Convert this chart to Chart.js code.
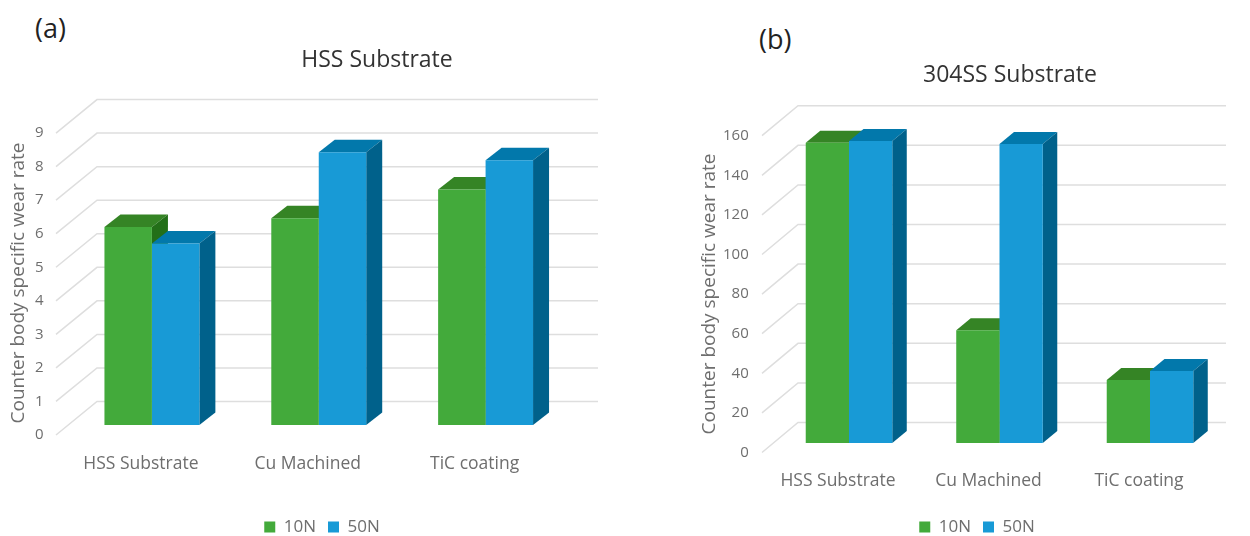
<!DOCTYPE html>
<html>
<head>
<meta charset="utf-8">
<title>Counter body specific wear rate</title>
<script src="https://cdn.jsdelivr.net/npm/chart.js@4"></script>
<style>
    body { margin: 0; background: #fff; width: 1250px; height: 536px; overflow: hidden; position: relative; }
    canvas { position: absolute; top: 0; }
    #chartA { left: 0; }
    #chartB { left: 690px; }
    .panelTag { position: absolute; font: 27px "Open Sans", sans-serif; color: #222; }
</style>
</head>
<body>
<div class="panelTag" style="left:35px;top:9px">(a)</div>
<div class="panelTag" style="left:759px;top:20px">(b)</div>
<canvas id="chartA" width="640" height="536"></canvas>
<canvas id="chartB" width="560" height="536"></canvas>
<script>
const categories = ["HSS Substrate", "Cu Machined", "TiC coating"];
const seriesNames = ["10N", "50N"];
const axisTitle = "Counter body specific wear rate";

const titleA = "HSS Substrate";
const values10NA = [5.9, 6.16, 7.02];
const values50NA = [5.41, 8.13, 7.89];
const ticksA = [0, 1, 2, 3, 4, 5, 6, 7, 8, 9];

const titleB = "304SS Substrate";
const values10NB = [151.7, 57, 31.8];
const values50NB = [152.5, 151, 36.4];
const ticksB = [0, 20, 40, 60, 80, 100, 120, 140, 160];

const FRONT_COLORS = ["#43aa3b", "#189ad6"];
const TOP_COLORS = ["#358425", "#0278ab"];
const SIDE_COLORS = ["#236f18", "#00618b"];
const GRID_COLOR = "#dedede";
const TEXT_COLOR = "#6e6e6e";
const FONT = '"Open Sans", sans-serif';

// Draws the back wall and the depth faces of the bars, the library paints the fronts on top
const depthPlugin = {
    id: "depth",
    afterLayout(chart) {
        const o = chart.options.plugins.depth;
        // title and legend are not centred on the canvas in the original
        const t = chart.titleBlock;
        const tw = t.width;
        t.left = o.titleX - tw / 2;
        t.right = o.titleX + tw / 2;
        t.top = o.titleY - t.height / 2;
        t.bottom = t.top + t.height;
        const l = chart.legend;
        const lh = l.height;
        l.left = o.legendX - l.width / 2;
        l.right = o.legendX + l.width / 2;
        l.top = o.legendY - lh / 2;
        l.bottom = l.top + lh;
    },
    beforeDatasetsDraw(chart) {
        const o = chart.options.plugins.depth;
        const ctx = chart.ctx;
        const front = chart.scales.yFront;

        ctx.save();
        ctx.strokeStyle = GRID_COLOR;
        ctx.lineWidth = 1.5;
        front.ticks.forEach(tick => {
            const y = front.getPixelForValue(tick.value);
            ctx.beginPath();
            ctx.moveTo(o.wallLeft, y);
            ctx.lineTo(o.wallLeft + o.wallDx, y + o.wallDy);
            ctx.lineTo(o.wallRight, y + o.wallDy);
            ctx.stroke();
        });

        chart.data.datasets.forEach((ds, i) => {
            chart.getDatasetMeta(i).data.forEach(bar => {
                const p = bar.getProps(["x", "y", "base", "width"], true);
                const x0 = p.x - p.width / 2;
                const x1 = p.x + p.width / 2;
                ctx.fillStyle = TOP_COLORS[i];
                ctx.beginPath();
                ctx.moveTo(x0, p.y);
                ctx.lineTo(x0 + o.barDx, p.y + o.barDy);
                ctx.lineTo(x1 + o.barDx, p.y + o.barDy);
                ctx.lineTo(x1, p.y);
                ctx.closePath();
                ctx.fill();
                ctx.fillStyle = SIDE_COLORS[i];
                ctx.beginPath();
                ctx.moveTo(x1, p.y);
                ctx.lineTo(x1 + o.barDx, p.y + o.barDy);
                ctx.lineTo(x1 + o.barDx, p.base + o.barDy);
                ctx.lineTo(x1, p.base);
                ctx.closePath();
                ctx.fill();
            });
        });
        ctx.restore();
    }
};

function drawPanel(id, title, tickValues, data10N, data50N, s) {
    new Chart(document.getElementById(id), {
        type: "bar",
        data: {
            labels: categories,
            datasets: [
                { label: seriesNames[0], data: data10N, backgroundColor: FRONT_COLORS[0], yAxisID: "y" },
                { label: seriesNames[1], data: data50N, backgroundColor: FRONT_COLORS[1], yAxisID: "y" }
            ]
        },
        options: {
            responsive: false,
            animation: false,
            layout: { padding: { top: s.areaTop - 27.6, right: s.canvasW - s.areaRight, bottom: 0, left: 0 } },
            datasets: { bar: { categoryPercentage: s.catPct, barPercentage: 1 } },
            plugins: {
                title: {
                    display: true,
                    text: title,
                    color: "#333",
                    padding: 0,
                    font: { family: FONT, size: 23, weight: "normal", lineHeight: 1.2 }
                },
                legend: {
                    position: "bottom",
                    labels: {
                        boxWidth: 11,
                        boxHeight: 11,
                        padding: 12,
                        color: TEXT_COLOR,
                        font: { family: FONT, size: 17 }
                    }
                },
                tooltip: { enabled: false },
                depth: s
            },
            scales: {
                x: {
                    grid: { display: false, drawTicks: false },
                    border: { display: false },
                    ticks: { color: TEXT_COLOR, padding: 9, labelOffset: -11, font: { family: FONT, size: 17.5 } },
                    afterFit(scale) {
                        scale.height = 536 - s.areaBottom - scale.chart.legend.height;
                    }
                },
                y: {
                    display: false,
                    min: (s.baseY - s.areaBottom) / s.unit,
                    max: (s.baseY - s.areaTop) / s.unit
                },
                yFront: {
                    position: "left",
                    min: (s.frontY - s.areaBottom) / s.unit,
                    max: (s.frontY - s.areaTop) / s.unit,
                    grid: { display: false, drawTicks: false },
                    border: { display: false },
                    title: {
                        display: true,
                        text: axisTitle,
                        color: TEXT_COLOR,
                        padding: { top: s.titlePad, bottom: 0 },
                        font: { family: FONT, size: 19 }
                    },
                    ticks: {
                        autoSkip: false,
                        color: TEXT_COLOR,
                        padding: s.tickPad,
                        font: { family: FONT, size: 15 }
                    },
                    afterBuildTicks(scale) {
                        scale.ticks = tickValues.map(v => ({ value: v }));
                    },
                    afterFit(scale) {
                        scale.width = s.areaLeft;
                    }
                }
            }
        },
        plugins: [depthPlugin]
    });
}

drawPanel("chartA", titleA, ticksA, values10NA, values50NA, {
    canvasW: 640, areaLeft: 68.5, areaRight: 569, areaTop: 121, areaBottom: 445,
    baseY: 425, frontY: 435, unit: 33.55, catPct: 0.569, titlePad: 7, tickPad: 25,
    wallLeft: 56, wallDx: 41, wallDy: -33.5, wallRight: 598, barDx: 16, barDy: -12.5,
    titleX: 377, titleY: 60, legendX: 322, legendY: 526
});

drawPanel("chartB", titleB, ticksB, values10NB, values50NB, {
    canvasW: 560, areaLeft: 83.75, areaRight: 535.25, areaTop: 126, areaBottom: 462,
    baseY: 443, frontY: 452.5, unit: 1.98, catPct: 0.575, titlePad: 8, tickPad: 25,
    wallLeft: 72, wallDx: 36, wallDy: -30, wallRight: 536, barDx: 14.5, barDy: -12,
    titleX: 320, titleY: 75, legendX: 287, legendY: 526
});
</script>
</body>
</html>
